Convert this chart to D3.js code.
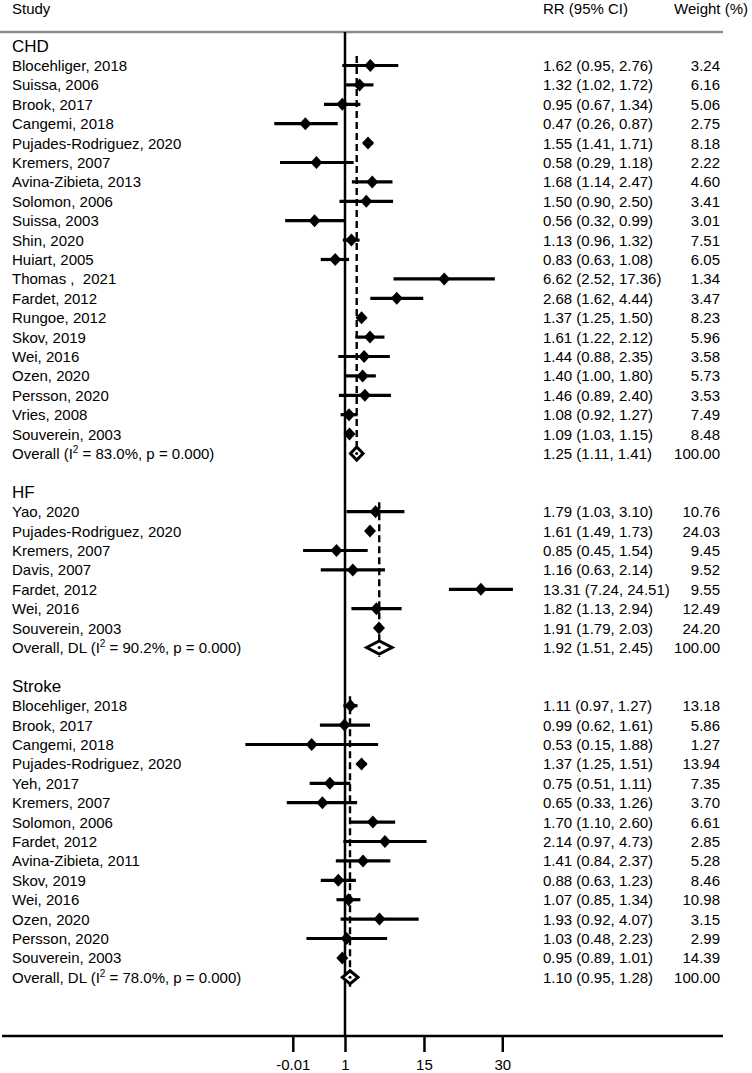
<!DOCTYPE html>
<html>
<head>
<meta charset="utf-8">
<script src="https://cdn.jsdelivr.net/npm/d3@7"></script>
<style>
  html, body { margin: 0; padding: 0; background: #fff; }
  svg { display: block; }
  text { font-family: "Liberation Sans", Arial, sans-serif; fill: #000; }
</style>
</head>
<body>
<svg id="chart" width="752" height="1073"></svg>
<script>
// ---------- DATA ----------
const groups = ["CHD", "HF", "Stroke"];

const chdStudies = ["Blocehliger, 2018","Suissa, 2006","Brook, 2017","Cangemi, 2018","Pujades-Rodriguez, 2020","Kremers, 2007","Avina-Zibieta, 2013","Solomon, 2006","Suissa, 2003","Shin, 2020","Huiart, 2005","Thomas ,  2021","Fardet, 2012","Rungoe, 2012","Skov, 2019","Wei, 2016","Ozen, 2020","Persson, 2020","Vries, 2008","Souverein, 2003"];
const chdRR    = [1.62,1.32,0.95,0.47,1.55,0.58,1.68,1.50,0.56,1.13,0.83,6.62,2.68,1.37,1.61,1.44,1.40,1.46,1.08,1.09];
const chdLo    = [0.95,1.02,0.67,0.26,1.41,0.29,1.14,0.90,0.32,0.96,0.63,2.52,1.62,1.25,1.22,0.88,1.00,0.89,0.92,1.03];
const chdHi    = [2.76,1.72,1.34,0.87,1.71,1.18,2.47,2.50,0.99,1.32,1.08,17.36,4.44,1.50,2.12,2.35,1.80,2.40,1.27,1.15];
const chdW     = ["3.24","6.16","5.06","2.75","8.18","2.22","4.60","3.41","3.01","7.51","6.05","1.34","3.47","8.23","5.96","3.58","5.73","3.53","7.49","8.48"];
const chdOverall = {pre: "Overall (I", i2: "83.0%", rr: 1.25, lo: 1.11, hi: 1.41, w: "100.00"};

const hfStudies = ["Yao, 2020","Pujades-Rodriguez, 2020","Kremers, 2007","Davis, 2007","Fardet, 2012","Wei, 2016","Souverein, 2003"];
const hfRR      = [1.79,1.61,0.85,1.16,13.31,1.82,1.91];
const hfLo      = [1.03,1.49,0.45,0.63,7.24,1.13,1.79];
const hfHi      = [3.10,1.73,1.54,2.14,24.51,2.94,2.03];
const hfW       = ["10.76","24.03","9.45","9.52","9.55","12.49","24.20"];
const hfOverall = {pre: "Overall, DL (I", i2: "90.2%", rr: 1.92, lo: 1.51, hi: 2.45, w: "100.00"};

const strokeStudies = ["Blocehliger, 2018","Brook, 2017","Cangemi, 2018","Pujades-Rodriguez, 2020","Yeh, 2017","Kremers, 2007","Solomon, 2006","Fardet, 2012","Avina-Zibieta, 2011","Skov, 2019","Wei, 2016","Ozen, 2020","Persson, 2020","Souverein, 2003"];
const strokeRR  = [1.11,0.99,0.53,1.37,0.75,0.65,1.70,2.14,1.41,0.88,1.07,1.93,1.03,0.95];
const strokeLo  = [0.97,0.62,0.15,1.25,0.51,0.33,1.10,0.97,0.84,0.63,0.85,0.92,0.48,0.89];
const strokeHi  = [1.27,1.61,1.88,1.51,1.11,1.26,2.60,4.73,2.37,1.23,1.34,4.07,2.23,1.01];
const strokeW   = ["13.18","5.86","1.27","13.94","7.35","3.70","6.61","2.85","5.28","8.46","10.98","3.15","2.99","14.39"];
const strokeOverall = {pre: "Overall, DL (I", i2: "78.0%", rr: 1.10, lo: 0.95, hi: 1.28, w: "100.00"};

const tickValues = [0.37, 1, 4.5, 20];
const tickLabels = ["-0.01", "1", "15", "30"];

// ---------- BUILD ROWS ----------
const groupData = [
  {name: groups[0], studies: chdStudies, rr: chdRR, lo: chdLo, hi: chdHi, w: chdW, overall: chdOverall},
  {name: groups[1], studies: hfStudies, rr: hfRR, lo: hfLo, hi: hfHi, w: hfW, overall: hfOverall},
  {name: groups[2], studies: strokeStudies, rr: strokeRR, lo: strokeLo, hi: strokeHi, w: strokeW, overall: strokeOverall}
];

const rows = [];
let idx = -1;
groupData.forEach((g, gi) => {
  if (gi > 0) idx += 1; // blank row
  rows.push({type: "header", label: g.name, i: idx});
  idx++;
  const first = idx;
  g.studies.forEach((s, k) => {
    rows.push({type: "study", label: s, rr: g.rr[k], lo: g.lo[k], hi: g.hi[k], w: g.w[k], i: idx});
    idx++;
  });
  rows.push({type: "overall", o: g.overall, rr: g.overall.rr, lo: g.overall.lo, hi: g.overall.hi, w: g.overall.w, i: idx, first: first});
  idx++;
});

const fmt = d3.format(".2f");

// ---------- SCALES ----------
const svg = d3.select("#chart");
const x0 = 345, pxPerLn = 52.5;
const x = d3.scaleLog().domain([0.1, 30]).range([x0 + pxPerLn * Math.log(0.1), x0 + pxPerLn * Math.log(30)]);
const y = d3.scaleLinear().domain([0, 1]).range([65.5, 84.9]);

const FS = 15;
const colRR = 543, colW = 720, colStudy = 12;

// headers
svg.append("text").attr("x", colStudy).attr("y", 14).attr("font-size", FS).text("Study");
svg.append("text").attr("x", colRR).attr("y", 14).attr("font-size", FS).text("RR (95% CI)");
svg.append("text").attr("x", 748).attr("y", 14).attr("font-size", FS).attr("text-anchor", "end").text("Weight (%)");

// top gray line
svg.append("line").attr("x1", 0).attr("x2", 723).attr("y1", 32).attr("y2", 32)
  .attr("stroke", "#8c8c8c").attr("stroke-width", 2.5);

// null line at 1
const axisY = 1036;
svg.append("line").attr("x1", x(1)).attr("x2", x(1)).attr("y1", 32).attr("y2", axisY)
  .attr("stroke", "#000").attr("stroke-width", 2.5);

// dashed overall lines
rows.filter(r => r.type === "overall").forEach(r => {
  svg.append("line").attr("x1", x(r.rr)).attr("x2", x(r.rr))
    .attr("y1", y(r.first) - 9.5).attr("y2", y(r.i) + 9.5)
    .attr("stroke", "#000").attr("stroke-width", 2.4).attr("stroke-dasharray", "7,4");
});

// rows
rows.forEach(r => {
  const cy = y(r.i);
  if (r.type === "header") {
    svg.append("text").attr("x", colStudy).attr("y", cy + 6).attr("font-size", 17).text(r.label);
    return;
  }
  if (r.type === "study") {
    svg.append("text").attr("x", colStudy).attr("y", cy + 5.4).attr("font-size", FS)
      .attr("xml:space", "preserve").style("white-space", "pre").text(r.label);
  } else {
    const t = svg.append("text").attr("x", colStudy).attr("y", cy + 5.4).attr("font-size", FS);
    t.append("tspan").text(r.o.pre);
    t.append("tspan").attr("font-size", 10).attr("dy", -6).text("2");
    t.append("tspan").attr("dy", 6).text(" = " + r.o.i2 + ", p = 0.000)");
  }
  svg.append("text").attr("x", colRR).attr("y", cy + 5.4).attr("font-size", FS)
    .text(`${fmt(r.rr)} (${fmt(r.lo)}, ${fmt(r.hi)})`);
  svg.append("text").attr("x", colW).attr("y", cy + 5.4).attr("font-size", FS)
    .attr("text-anchor", "end").text(r.w);

  if (r.type === "study") {
    svg.append("line").attr("x1", x(r.lo)).attr("x2", x(r.hi)).attr("y1", cy).attr("y2", cy)
      .attr("stroke", "#000").attr("stroke-width", 3.2);
    const cx = x(r.rr), hw = 6, hh = 6.5;
    svg.append("path").attr("d", `M${cx - hw},${cy} L${cx},${cy - hh} L${cx + hw},${cy} L${cx},${cy + hh} Z`)
      .attr("fill", "#000");
  } else {
    const xl = x(r.lo), xr = x(r.hi), cx = x(r.rr), hh = 6.5;
    svg.append("path").attr("d", `M${xl},${cy} L${cx},${cy - hh} L${xr},${cy} L${cx},${cy + hh} Z`)
      .attr("fill", "#fff").attr("stroke", "#000").attr("stroke-width", 3).attr("stroke-linejoin", "miter");
    svg.append("circle").attr("cx", cx).attr("cy", cy).attr("r", 1.5).attr("fill", "#000");
  }
});

// x axis
svg.append("line").attr("x1", 2).attr("x2", 723).attr("y1", axisY).attr("y2", axisY)
  .attr("stroke", "#000").attr("stroke-width", 2.5);
const axis = d3.axisBottom(x).tickValues(tickValues).tickFormat((d, i) => tickLabels[i]).tickSize(16).tickPadding(7);
const ag = svg.append("g").attr("transform", `translate(0,${axisY})`).call(axis);
ag.select(".domain").remove();
ag.selectAll(".tick line").attr("stroke", "#000").attr("stroke-width", 2.5);
ag.selectAll(".tick text").attr("font-size", FS).attr("font-family", "Liberation Sans, Arial, sans-serif").attr("fill", "#000");
</script>
</body>
</html>
